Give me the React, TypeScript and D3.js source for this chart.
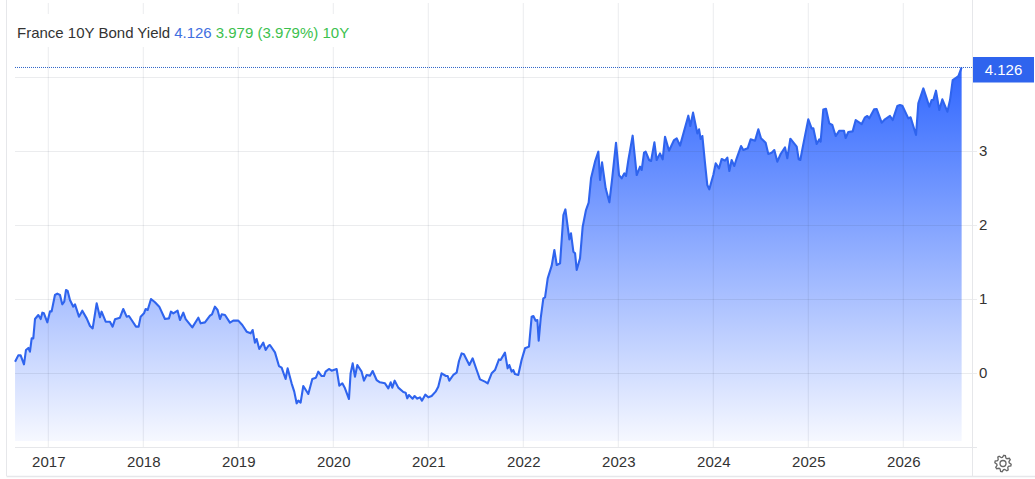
import React, { useRef, useEffect } from 'react';
import * as d3 from 'd3';

const title = 'France 10Y Bond Yield';
const lastValue = '4.126';
const changeText = '3.979 (3.979%) 10Y';
const yearTicks = [2017, 2018, 2019, 2020, 2021, 2022, 2023, 2024, 2025, 2026];
const yieldTicks = [0, 1, 2, 3];
const gridYields = [0, 1, 2, 3, 4];

// decimal years
const dates = [
  2016.65, 2016.684, 2016.709, 2016.744, 2016.765, 2016.79, 2016.807, 2016.825, 2016.842, 2016.86, 2016.895, 2016.92, 2016.937, 2016.954, 2016.99,
  2017.018, 2017.035, 2017.07, 2017.095, 2017.123, 2017.147, 2017.168, 2017.186, 2017.204, 2017.228, 2017.263, 2017.281, 2017.323, 2017.358, 2017.404, 2017.439, 2017.467, 2017.509, 2017.544, 2017.561, 2017.604, 2017.649, 2017.677, 2017.702, 2017.754, 2017.789, 2017.825, 2017.849, 2017.877, 2017.923, 2017.951, 2017.972,
  2018.007, 2018.025, 2018.046, 2018.081, 2018.123, 2018.168, 2018.228, 2018.27, 2018.291, 2018.316, 2018.361, 2018.386, 2018.421, 2018.446, 2018.516, 2018.579, 2018.604, 2018.649, 2018.702, 2018.723, 2018.754, 2018.782, 2018.807, 2018.825, 2018.86, 2018.912, 2018.947,
  2019.0, 2019.042, 2019.088, 2019.13, 2019.151, 2019.175, 2019.193, 2019.221, 2019.263, 2019.288, 2019.316, 2019.333, 2019.386, 2019.428, 2019.456, 2019.498, 2019.519, 2019.561, 2019.589, 2019.614, 2019.632, 2019.656, 2019.684, 2019.737, 2019.779, 2019.817, 2019.842, 2019.877, 2019.902, 2019.919, 2019.954, 2019.982,
  2020.035, 2020.063, 2020.095, 2020.123, 2020.165, 2020.182, 2020.204, 2020.228, 2020.253, 2020.298, 2020.323, 2020.351, 2020.386, 2020.414, 2020.456, 2020.491, 2020.544, 2020.579, 2020.604, 2020.621, 2020.646, 2020.684, 2020.737, 2020.761, 2020.779, 2020.796, 2020.835, 2020.856, 2020.884, 2020.912, 2020.933, 2020.968,
  2021.0, 2021.035, 2021.077, 2021.105, 2021.14, 2021.186, 2021.204, 2021.221, 2021.263, 2021.298, 2021.323, 2021.351, 2021.375, 2021.432, 2021.467, 2021.509, 2021.544, 2021.596, 2021.625, 2021.667, 2021.702, 2021.744, 2021.761, 2021.807, 2021.835, 2021.853, 2021.877, 2021.895, 2021.912, 2021.947, 2021.982,
  2022.018, 2022.06, 2022.088, 2022.106, 2022.13, 2022.148, 2022.162, 2022.183, 2022.211, 2022.229, 2022.257, 2022.299, 2022.327, 2022.352, 2022.387, 2022.422, 2022.443, 2022.485, 2022.502, 2022.527, 2022.545, 2022.562, 2022.597, 2022.625, 2022.66, 2022.688, 2022.713, 2022.755, 2022.79, 2022.808, 2022.829, 2022.867, 2022.906, 2022.934, 2022.976,
  2023.008, 2023.036, 2023.064, 2023.081, 2023.106, 2023.151, 2023.194, 2023.229, 2023.246, 2023.271, 2023.288, 2023.324, 2023.345, 2023.38, 2023.404, 2023.439, 2023.467, 2023.492, 2023.534, 2023.587, 2023.615, 2023.65, 2023.737, 2023.758, 2023.787, 2023.832, 2023.85, 2023.867, 2023.885, 2023.913, 2023.937, 2023.958,
  2024.0, 2024.025, 2024.06, 2024.088, 2024.123, 2024.148, 2024.169, 2024.193, 2024.221, 2024.246, 2024.292, 2024.316, 2024.362, 2024.393, 2024.439, 2024.474, 2024.502, 2024.551, 2024.579, 2024.614, 2024.642, 2024.674, 2024.709, 2024.755, 2024.779, 2024.811, 2024.878, 2024.899, 2024.916, 2024.941,
  2025.0, 2025.035, 2025.053, 2025.088, 2025.116, 2025.13, 2025.158, 2025.186, 2025.221, 2025.253, 2025.288, 2025.327, 2025.376, 2025.393, 2025.421, 2025.467, 2025.499, 2025.562, 2025.597, 2025.621, 2025.642, 2025.692, 2025.72, 2025.772, 2025.807, 2025.86, 2025.888, 2025.937, 2025.965, 2025.99,
  2026.053, 2026.077, 2026.134, 2026.158, 2026.211, 2026.246, 2026.274, 2026.298, 2026.316, 2026.344, 2026.379, 2026.411, 2026.464, 2026.492, 2026.52, 2026.562, 2026.58, 2026.614,
];

const yields = [
  0.16, 0.245, 0.245, 0.124, 0.318, 0.345, 0.295, 0.475, 0.475, 0.736, 0.79, 0.736, 0.822, 0.813, 0.691,
  0.84, 0.84, 1.061, 1.079, 1.061, 0.935, 0.971, 1.128, 1.115, 0.993, 0.903, 0.935, 0.768, 0.849, 0.745, 0.642, 0.61, 0.948, 0.759, 0.836, 0.7, 0.7, 0.633, 0.732, 0.754, 0.872, 0.768, 0.777, 0.723, 0.633, 0.633, 0.768,
  0.813, 0.872, 0.858, 1.007, 0.962, 0.903, 0.736, 0.745, 0.836, 0.813, 0.849, 0.723, 0.822, 0.736, 0.624, 0.754, 0.678, 0.691, 0.782, 0.8, 0.903, 0.858, 0.736, 0.8, 0.791, 0.687, 0.714,
  0.714, 0.655, 0.565, 0.543, 0.588, 0.417, 0.466, 0.331, 0.417, 0.318, 0.372, 0.385, 0.286, 0.101, 0.079, -0.074, 0.07, -0.133, -0.245, -0.403, -0.367, -0.394, -0.169, -0.277, -0.074, -0.056, 0.025, -0.034, -0.034, 0.025, 0.061, 0.038,
  0.061, -0.164, -0.133, -0.2, -0.345, 0.002, 0.137, -0.043, 0.115, 0.025, -0.097, -0.02, -0.029, 0.034, -0.088, -0.119, -0.133, -0.2, -0.119, -0.191, -0.097, -0.191, -0.25, -0.259, -0.336, -0.291, -0.34, -0.304, -0.34, -0.322, -0.367, -0.286,
  -0.322, -0.304, -0.245, -0.178, 0.002, -0.034, -0.034, -0.097, -0.02, 0.011, 0.169, 0.272, 0.259, 0.115, 0.205, 0.047, -0.079, -0.11, -0.133, 0.002, 0.047, 0.191, 0.182, 0.282, 0.07, 0.115, 0.025, 0.047, -0.007, -0.02, 0.182,
  0.34, 0.363, 0.768, 0.777, 0.714, 0.723, 0.444, 0.745, 1.016, 1.029, 1.286, 1.457, 1.669, 1.466, 1.489, 2.142, 2.218, 1.813, 1.894, 1.646, 1.624, 1.399, 1.556, 1.984, 2.209, 2.309, 2.637, 2.863, 2.998, 2.615, 2.854, 2.502, 2.313, 2.615, 3.119,
  2.682, 2.637, 2.705, 2.669, 2.885, 3.214, 2.682, 2.795, 2.75, 2.984, 2.998, 2.885, 2.872, 3.124, 2.885, 2.975, 2.894, 3.2, 3.011, 3.155, 3.178, 3.079, 3.484, 3.345, 3.525, 3.245, 3.3, 3.169, 3.209, 2.84, 2.547, 2.489,
  2.682, 2.84, 2.772, 2.899, 2.876, 2.917, 2.736, 2.885, 2.804, 2.908, 3.074, 3.02, 3.043, 3.164, 3.146, 3.3, 3.178, 3.119, 2.966, 2.984, 3.02, 2.863, 2.966, 3.056, 2.908, 3.173, 3.065, 2.894, 2.885, 3.056,
  3.435, 3.313, 3.313, 3.101, 3.164, 3.133, 3.569, 3.578, 3.38, 3.358, 3.209, 3.281, 3.281, 3.182, 3.263, 3.272, 3.425, 3.371, 3.462, 3.48, 3.448, 3.569, 3.574, 3.389, 3.435, 3.48, 3.425, 3.614, 3.628, 3.619,
  3.448, 3.462, 3.223, 3.65, 3.853, 3.718, 3.605, 3.695, 3.695, 3.822, 3.56, 3.705, 3.538, 3.695, 3.966, 4.002, 4.02, 4.137,
];

const BLUE = '#2f64ee';
const GREEN = '#3cc14e';
const FONT = '"Liberation Sans", Arial, sans-serif';

export default function App() {
  const chartRef = useRef<SVGSVGElement>(null);

  useEffect(() => {
    if (!chartRef.current) return;
    const svg = d3.select(chartRef.current);
    svg.selectAll('*').remove();

    const width = 1035;
    const height = 479;
    const plotLeft = 15;
    const plotRight = 972;
    const plotBottom = 447;
    const fillBottom = 441;

    const x = d3.scaleLinear().domain([2017, 2026]).range([48.3, 903.3]);
    const y = d3.scaleLinear().domain([0, 4]).range([373.5, 77.5]);

    const points = dates.map((d, i) => ({ date: d, value: yields[i] }));

    const defs = svg.append('defs');
    const grad = defs.append('linearGradient')
      .attr('id', 'areaFill')
      .attr('gradientUnits', 'userSpaceOnUse')
      .attr('x1', 0).attr('x2', 0)
      .attr('y1', 67).attr('y2', fillBottom);
    grad.append('stop').attr('offset', '0%').attr('stop-color', '#2f66ff');
    grad.append('stop').attr('offset', '100%').attr('stop-color', '#f6f8ff');

    svg.append('rect').attr('width', width).attr('height', height).attr('fill', '#fff');

    // area first so the grid shows through it
    const area = d3.area<{ date: number; value: number }>()
      .x(d => x(d.date))
      .y0(fillBottom)
      .y1(d => y(d.value));
    svg.append('path').datum(points).attr('fill', 'url(#areaFill)').attr('d', area);

    const gridColor = 'rgba(60,70,90,0.1)';

    // vertical grid
    svg.append('g').selectAll('line').data(yearTicks).enter().append('line')
      .attr('x1', d => x(d)).attr('x2', d => x(d))
      .attr('y1', 3).attr('y2', plotBottom)
      .attr('stroke', gridColor);

    // horizontal grid
    svg.append('g').selectAll('line').data(gridYields).enter().append('line')
      .attr('x1', plotLeft).attr('x2', plotRight + 5)
      .attr('y1', d => y(d)).attr('y2', d => y(d))
      .attr('stroke', gridColor);

    // frame
    const frame = svg.append('g').attr('stroke', '#e6e7ea').attr('fill', 'none');
    frame.append('line').attr('x1', 6.5).attr('x2', 6.5).attr('y1', 0).attr('y2', 476);
    frame.append('line').attr('x1', plotRight + 0.5).attr('x2', plotRight + 0.5).attr('y1', 0).attr('y2', 476);
    frame.append('line').attr('x1', plotLeft).attr('x2', plotRight + 5).attr('y1', plotBottom + 0.5).attr('y2', plotBottom + 0.5);
    frame.append('line').attr('x1', 6.5).attr('x2', width).attr('y1', 476.5).attr('y2', 476.5).attr('stroke-width', 1.5);

    const line = d3.line<{ date: number; value: number }>()
      .x(d => x(d.date))
      .y(d => y(d.value));
    svg.append('path').datum(points)
      .attr('fill', 'none')
      .attr('stroke', BLUE)
      .attr('stroke-width', 2.1)
      .attr('stroke-linejoin', 'round')
      .attr('d', line);

    // last price dotted line and tag
    const lastY = y(+lastValue) - 0.7;
    svg.append('line')
      .attr('x1', plotLeft).attr('x2', plotRight + 2)
      .attr('y1', lastY).attr('y2', lastY)
      .attr('stroke', '#2f64c8')
      .attr('stroke-dasharray', '1 1');
    svg.append('rect')
      .attr('x', 973).attr('y', 57)
      .attr('width', 61).attr('height', 25.5)
      .attr('fill', BLUE);
    svg.append('text')
      .attr('x', 1003.5).attr('y', 74.5)
      .attr('text-anchor', 'middle')
      .attr('fill', '#fff')
      .style('font', `15px ${FONT}`)
      .text(lastValue);

    // axes
    const xAxis = d3.axisBottom(x).tickValues(yearTicks).tickFormat(d3.format('d') as any).tickSize(0).tickPadding(0);
    const xG = svg.append('g').attr('transform', `translate(0,${plotBottom + 20})`).call(xAxis);
    const yAxis = d3.axisRight(y).tickValues(yieldTicks).tickFormat(d3.format('d') as any).tickSize(0).tickPadding(0);
    const yG = svg.append('g').attr('transform', `translate(979,-1)`).call(yAxis);
    [xG, yG].forEach(g => {
      g.select('.domain').remove();
      g.selectAll('text').attr('fill', '#333').style('font', `15px ${FONT}`);
    });
    xG.selectAll('text').attr('dy', 0);

    // title block sits on a white label
    svg.append('rect').attr('x', 15).attr('y', 14).attr('width', 335).attr('height', 33).attr('fill', '#fff');
    const label = svg.append('text')
      .attr('x', 17).attr('y', 38)
      .style('font', `15px ${FONT}`);
    label.append('tspan').attr('fill', '#333').text(title);
    label.append('tspan').attr('fill', '#3f6fe0').attr('dx', 4).text(lastValue);
    label.append('tspan').attr('fill', GREEN).attr('dx', 4).text(changeText);

    // settings gear
    const teeth = 8;
    const gearPts: [number, number][] = d3.range(teeth * 4).map(i => {
      const a = (i / (teeth * 4)) * 2 * Math.PI + 0.1;
      const r = i % 4 < 2 ? 8.2 : 6.2;
      return [a, r];
    });
    const gear = svg.append('g').attr('transform', 'translate(1003,463.5)')
      .attr('fill', 'none').attr('stroke', '#666').attr('stroke-width', 1.3);
    gear.append('path').attr('d', d3.lineRadial().curve(d3.curveLinearClosed)(gearPts) as string);
    gear.append('circle').attr('r', 3);
  }, []);

  return (
    <svg
      ref={chartRef}
      width={1035}
      height={479}
      style={{ position: 'absolute', left: 0, top: 0, display: 'block' }}
    />
  );
}
